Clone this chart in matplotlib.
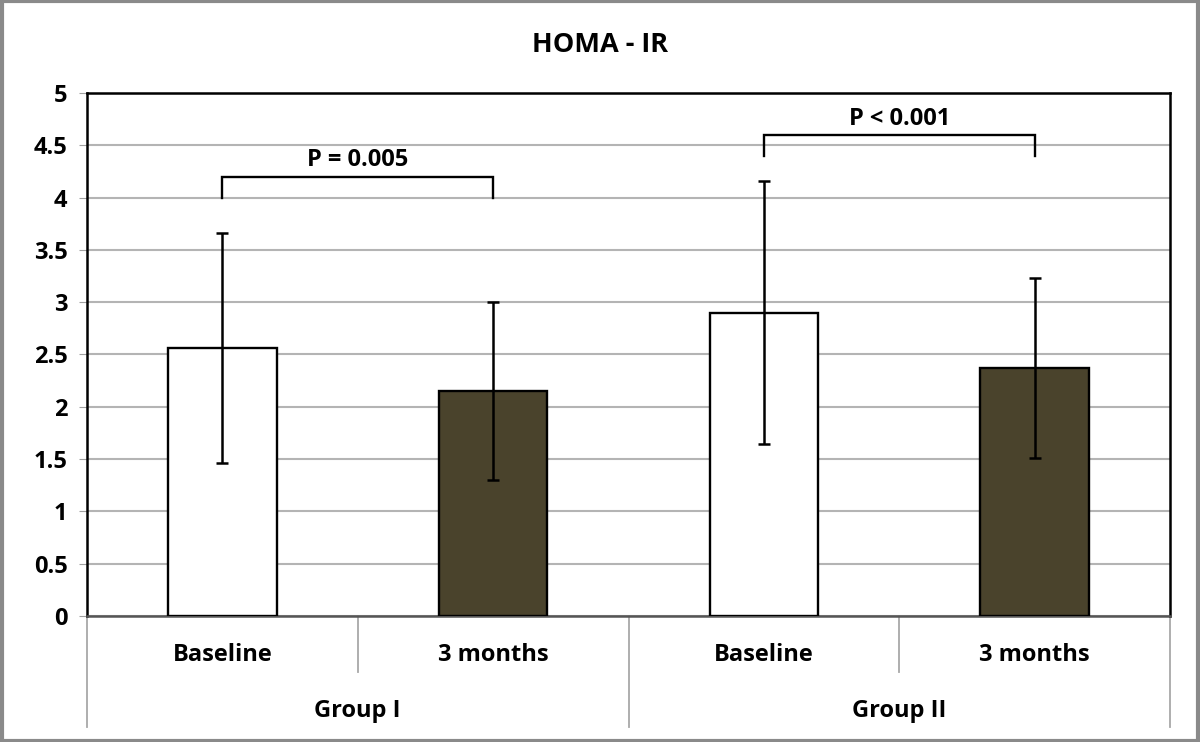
""" HOMA-IR at baseline and 3 months for two groups, as a bar chart. """

import matplotlib
matplotlib.use( 'Agg' )
import matplotlib.pyplot as plt
import matplotlib.transforms as mtransforms
from matplotlib.patches import Rectangle

# Chart data
groups = ['Group I', 'Group II']
times = ['Baseline', '3 months']
means = [2.56, 2.15, 2.90, 2.37]          # Baseline/3 months, Group I then II
sds = [1.10, 0.85, 1.26, 0.86]
p_labels = ['P = 0.005', 'P < 0.001']
p_heights = [4.2, 4.6]                    # height of each bracket
yticks = [0, 0.5, 1, 1.5, 2, 2.5, 3, 3.5, 4, 4.5, 5]
ytick_labels = ['0', '0.5', '1', '1.5', '2', '2.5', '3', '3.5', '4', '4.5', '5']

plt.rcParams['font.family'] = ['Open Sans', 'DejaVu Sans']
plt.rcParams['font.weight'] = 'bold'

fig = plt.figure( figsize=(12, 7.42), dpi=100 )
ax = fig.add_axes( [0.0725, 0.1698, 0.9025, 0.7049] )

# Outer gray frame around the whole picture
fig.patches.append( Rectangle( (0.002, 0.002), 0.996, 0.996, transform=fig.transFigure,
                               fill=False, edgecolor='#8a8a8a', linewidth=3 ) )

x = [0.5, 1.5, 2.5, 3.5]
colors = ['white', '#4a432c', 'white', '#4a432c']
ax.bar( x, means, width=0.40, color=colors, edgecolor='black', linewidth=1.7, zorder=3 )
ax.errorbar( x, means, yerr=sds, fmt='none', ecolor='black', elinewidth=1.8,
             capsize=4.5, capthick=1.8, zorder=4 )

# Significance brackets over each group
for i, (label, h) in enumerate( zip( p_labels, p_heights ) ):
    x0, x1 = x[2 * i], x[2 * i + 1]
    ax.plot( [x0, x0, x1, x1], [h - 0.2, h, h, h - 0.2], color='black', linewidth=1.7,
             zorder=5, solid_joinstyle='miter' )
    ax.text( (x0 + x1) / 2, h + 0.04, label, ha='center', va='bottom', fontsize=17,
             fontweight='bold' )

ax.set_xlim( 0, 4 )
ax.set_ylim( 0, 5 )
ax.set_yticks( yticks )
ax.set_yticklabels( ytick_labels, fontsize=17, fontweight='bold' )
ax.set_xticks( [] )
ax.tick_params( axis='y', length=6, color='#a0a0a0', pad=8 )
ax.grid( axis='y', color='#b4b4b4', linewidth=1.5, zorder=0 )
for side in ['left', 'top', 'right']:
    ax.spines[side].set_color( 'black' )
    ax.spines[side].set_linewidth( 1.8 )
ax.spines['bottom'].set_color( '#555555' )
ax.spines['bottom'].set_linewidth( 1.8 )

fig.text( 0.5, 1 - 45 / 742, 'HOMA - IR', ha='center', va='center', fontsize=19.5,
          fontweight='bold' )

# Two-level category axis below the plot
trans = mtransforms.blended_transform_factory( ax.transData, ax.transAxes )
for xs in [1, 3]:
    ax.plot( [xs, xs], [0, -0.107], transform=trans, color='#a8a8a8', linewidth=1.3,
             clip_on=False )
for xs in [0, 2, 4]:
    ax.plot( [xs, xs], [0, -0.212], transform=trans, color='#a8a8a8', linewidth=1.3,
             clip_on=False )
for i, xc in enumerate( x ):
    ax.text( xc, -0.075, times[i % 2], transform=trans, ha='center', va='center',
             fontsize=17, fontweight='bold' )
for i, g in enumerate( groups ):
    ax.text( 2 * i + 1, -0.182, g, transform=trans, ha='center', va='center',
             fontsize=17, fontweight='bold' )

fig.savefig( 'out.png', dpi=100 )
